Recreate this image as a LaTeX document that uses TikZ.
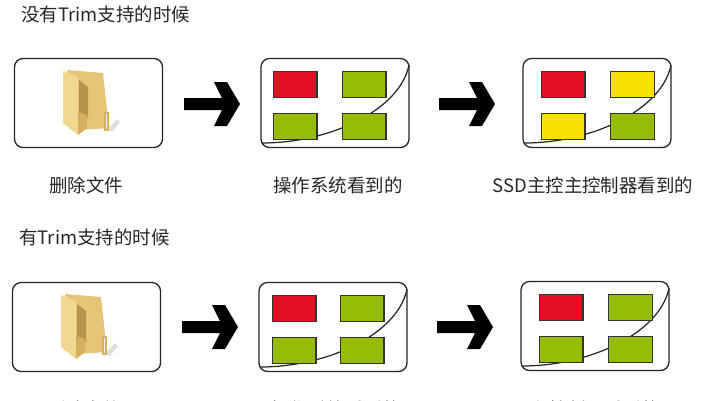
\documentclass[tikz,border=0pt]{standalone}
\usepackage{fontspec}
\newfontfamily\cjk{Noto Sans CJK SC}
\tikzset{
  panel/.style={draw=black!85,line width=0.75pt,rounded corners=0.17cm,fill=white,minimum width=2.96cm,minimum height=1.78cm,inner sep=0pt},
  block/.style={draw=black!80,line width=0.6pt,minimum width=0.87cm,minimum height=0.52cm,inner sep=0pt,anchor=north west},
  caption/.style={font=\cjk\fontsize{10.5pt}{12pt}\selectfont,text=black!85,inner sep=0pt},
}
\definecolor{badred}{HTML}{E30F22}
\definecolor{okgreen}{HTML}{96BC06}
\definecolor{staleyellow}{HTML}{F6E103}
\definecolor{folderback}{HTML}{E6C478}
\definecolor{folderflap}{HTML}{F1D890}
\definecolor{folderdark}{HTML}{B5954A}
\definecolor{foldertab}{HTML}{D4AF5E}
\begin{document}
\begin{tikzpicture}[x=0.02cm,y=-0.02cm]
\clip (0,0) rectangle (713,400);
% headings
\node[caption,anchor=west] (headno) at (21,14) {没有Trim支持的时候};
\node[caption,anchor=west] (headyes) at (19,237) {有Trim支持的时候};
% file panels with the folder
\foreach \name/\px/\py in {fileno/14/58,fileyes/12/282} {
  \node[panel] (\name) at (\px+74.5,\py+45) {};
  \begin{scope}[shift={(\px,\py)}]
    \fill[black!12] (93,72) -- (103,61) -- (106,64) -- (98,74) -- cycle;
    \fill[folderback] (53,12) -- (89,15) -- (93,52) -- (95,70) -- (66,72) -- cycle;
    \fill[black!4,draw=foldertab,line width=0.6pt] (91,55) -- (94,55) -- (94,72) -- (91,72) -- cycle;
    \fill[folderdark] (65,22) -- (74,29) -- (74,60) -- (65,55) -- cycle;
    \fill[folderflap] (49,13) -- (64,19) -- (64,77) -- (49,65) -- cycle;
    \fill[foldertab] (64,54) -- (73,57) -- (73,70) -- (64,77) -- cycle;
  \end{scope}
}
% what the screen panels show
\foreach \name/\px/\py/\lx/\rx/\cc in {osno/261/58/12/81/okgreen,ctrlno/523/58/18/87/staleyellow,osyes/259/282/13/81/okgreen,ctrlyes/521/281/18/87/okgreen} {
  \node[panel] (\name) at (\px+74,\py+45) {};
  \begin{scope}[shift={(\px,\py)}]
    \draw[black!85,line width=0.7pt] (1,85) .. controls (69,85) and (139,52) .. (148,7);
    \node[block,fill=badred] (\name-a) at (\lx,12.5) {};
    \node[block,fill=\cc] (\name-b) at (\rx,12.5) {};
    \node[block,fill=\cc] (\name-c) at (\lx,54.5) {};
    \node[block,fill=okgreen] (\name-d) at (\rx,54.5) {};
  \end{scope}
}
% arrows between the panels
\foreach \ax/\ay in {184/104,439/104,182/327,437/327} {
  \fill[black,shift={(\ax,\ay)}] (0,-6) -- (38,-6) -- (30,-22) -- (43,-22) -- (56,0) -- (43,22) -- (30,22) -- (38,6) -- (0,6) -- cycle;
}
% captions
\node[caption] (capfileno) at (86,185) {删除文件};
\node[caption] (caposno) at (338,185) {操作系统看到的};
\node[caption] (capctrlno) at (593,185) {SSD主控主控制器看到的};
\node[caption] (capfileyes) at (84,409) {删除文件};
\node[caption] (caposyes) at (336,409) {操作系统看到的};
\node[caption] (capctrlyes) at (578,409) {SSD主控制器看到的};
\end{tikzpicture}
\end{document}
